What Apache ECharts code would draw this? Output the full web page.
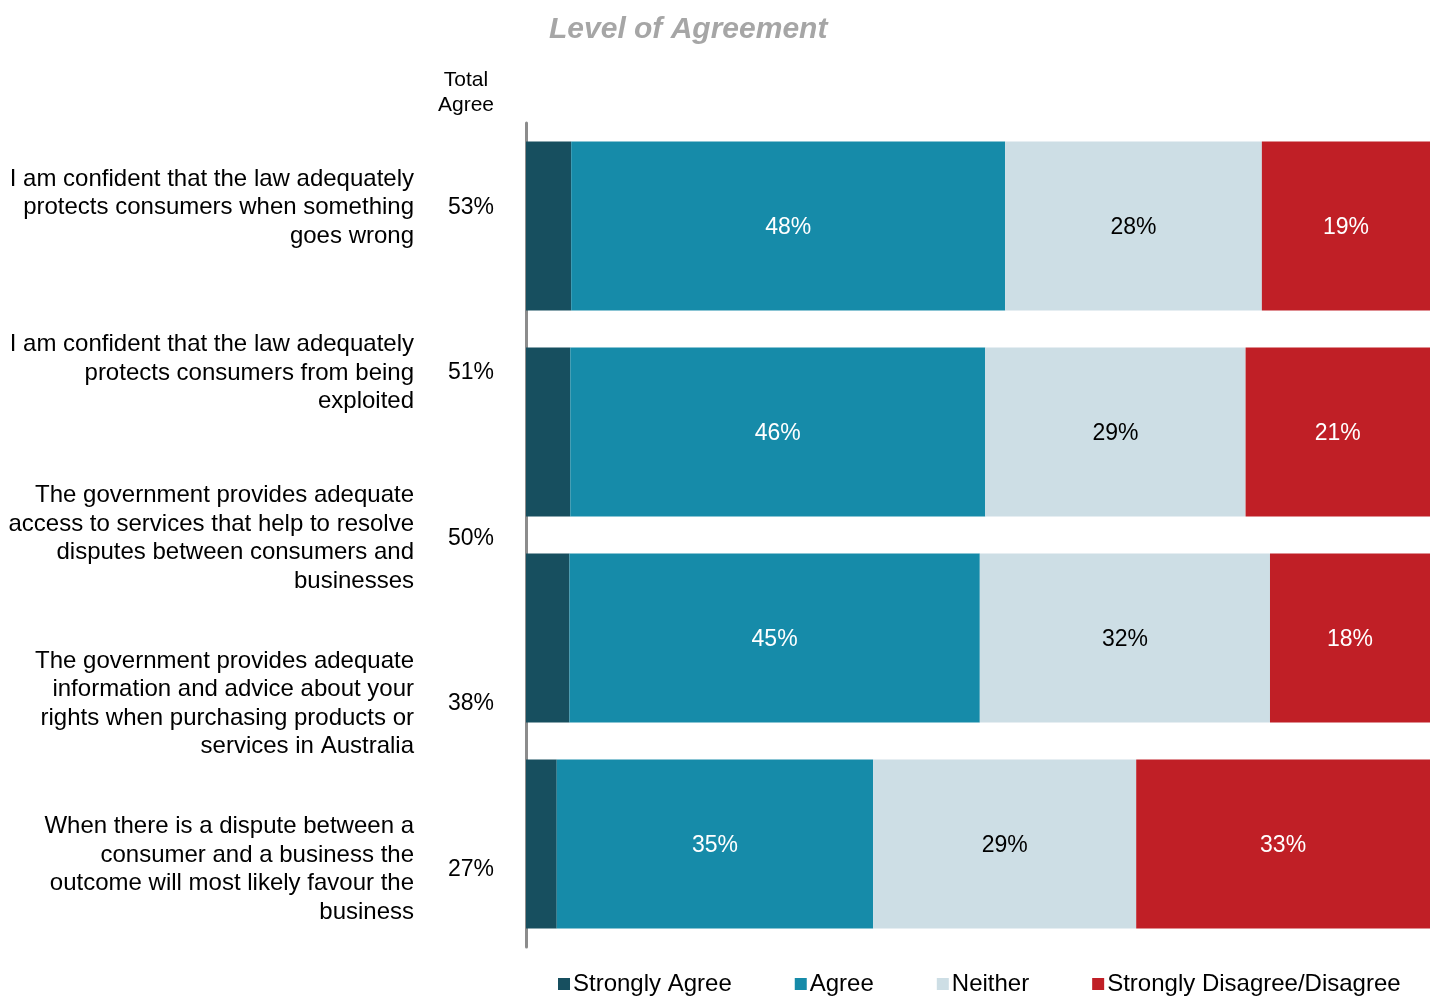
<!DOCTYPE html>
<html>
<head>
<meta charset="utf-8">
<script src="https://cdn.jsdelivr.net/npm/echarts@6/dist/echarts.min.js"></script>
<style>
  html, body { margin: 0; padding: 0; background: #fff; }
  #chart { width: 1430px; height: 996px; }
</style>
</head>
<body>
<div id="chart"></div>
<script>
// bars (4 rows are drawn in the plot)
const barRows = ['r1', 'r2', 'r3', 'r4'];
const stronglyAgree = [5.0, 4.9, 4.8, 3.4];
const agree = [48.0, 45.9, 45.4, 35.0];
const neither = [28.4, 28.8, 32.1, 29.1];
const disagree = [18.6, 20.5, 17.7, 32.5];

// left-hand statements and Total Agree column
const statements = [
    'I am confident that the law adequately\nprotects consumers when something\ngoes wrong',
    'I am confident that the law adequately\nprotects consumers from being\nexploited',
    'The government provides adequate\naccess to services that help to resolve\ndisputes between consumers and\nbusinesses',
    'The government provides adequate\ninformation and advice about your\nrights when purchasing products or\nservices in Australia',
    'When there is a dispute between a\nconsumer and a business the\noutcome will most likely favour the\nbusiness'
];
const totalAgree = ['53%', '51%', '50%', '38%', '27%'];

const FONT = '"Liberation Sans", Arial, sans-serif';
const colors = {
    sa: '#174f5f',
    agree: '#168ba9',
    neither: '#cddee5',
    disagree: '#c01f26'
};

const myChart = echarts.init(document.getElementById('chart'));

const barLabel = (color) => ({
    show: true,
    position: 'inside',
    color: color,
    fontFamily: FONT,
    fontSize: 23,
    offset: [0, 2],
    formatter: p => Math.round(p.value) + '%'
});

const labelAxis = (data, margin, size, extra) => Object.assign({
    type: 'category',
    gridIndex: 1,
    data: data,
    inverse: true,
    position: 'left',
    axisLine: { show: false },
    axisTick: { show: false },
    axisLabel: Object.assign({
        interval: 0,
        margin: margin,
        align: 'right',
        color: '#000',
        fontFamily: FONT,
        fontSize: size
    }, extra || {})
});

const option = {
    animation: false,
    backgroundColor: '#fff',
    title: {
        text: 'Level of Agreement',
        left: 544,
        top: 10,
        textStyle: {
            color: '#a6a6a6',
            fontFamily: FONT,
            fontSize: 30,
            fontWeight: 'bold',
            fontStyle: 'italic'
        }
    },
    graphic: [{
        type: 'text',
        x: 466,
        y: 68,
        style: {
            text: 'Total\nAgree',
            align: 'center',
            fill: '#000',
            font: '21px ' + FONT,
            lineHeight: 25
        }
    }],
    legend: {
        left: 558,
        top: 972,
        padding: 0,
        itemWidth: 12,
        itemHeight: 12,
        itemGap: 63,
        icon: 'rect',
        textStyle: {
            color: '#000',
            fontFamily: FONT,
            fontSize: 24,
            padding: [0, 0, 0, -2]
        },
        data: ['Strongly Agree', 'Agree', 'Neither', 'Strongly Disagree/Disagree']
    },
    grid: [
        { left: 526, right: 0, top: 123, bottom: 49 },
        { left: 526, right: 0, top: 125, bottom: 44 }
    ],
    xAxis: [
        { type: 'value', min: 0, max: 100, show: false },
        { type: 'value', gridIndex: 1, min: 0, max: 100, show: false }
    ],
    yAxis: [
        {
            type: 'category',
            data: barRows,
            inverse: true,
            axisLine: { show: true, lineStyle: { color: '#8c8c8c', width: 3 } },
            axisTick: { show: false },
            axisLabel: { show: false }
        },
        labelAxis(statements, 112, 24, { lineHeight: 28.5 }),
        labelAxis(totalAgree, 32, 23)
    ],
    series: [
        {
            name: 'Strongly Agree',
            type: 'bar',
            stack: 'total',
            barWidth: 169,
            data: stronglyAgree,
            itemStyle: { color: colors.sa }
        },
        {
            name: 'Agree',
            type: 'bar',
            stack: 'total',
            barWidth: 169,
            data: agree,
            itemStyle: { color: colors.agree },
            label: barLabel('#fff')
        },
        {
            name: 'Neither',
            type: 'bar',
            stack: 'total',
            barWidth: 169,
            data: neither,
            itemStyle: { color: colors.neither },
            label: barLabel('#000')
        },
        {
            name: 'Strongly Disagree/Disagree',
            type: 'bar',
            stack: 'total',
            barWidth: 169,
            data: disagree,
            itemStyle: { color: colors.disagree },
            label: barLabel('#fff')
        }
    ]
};

myChart.setOption(option);
</script>
</body>
</html>
